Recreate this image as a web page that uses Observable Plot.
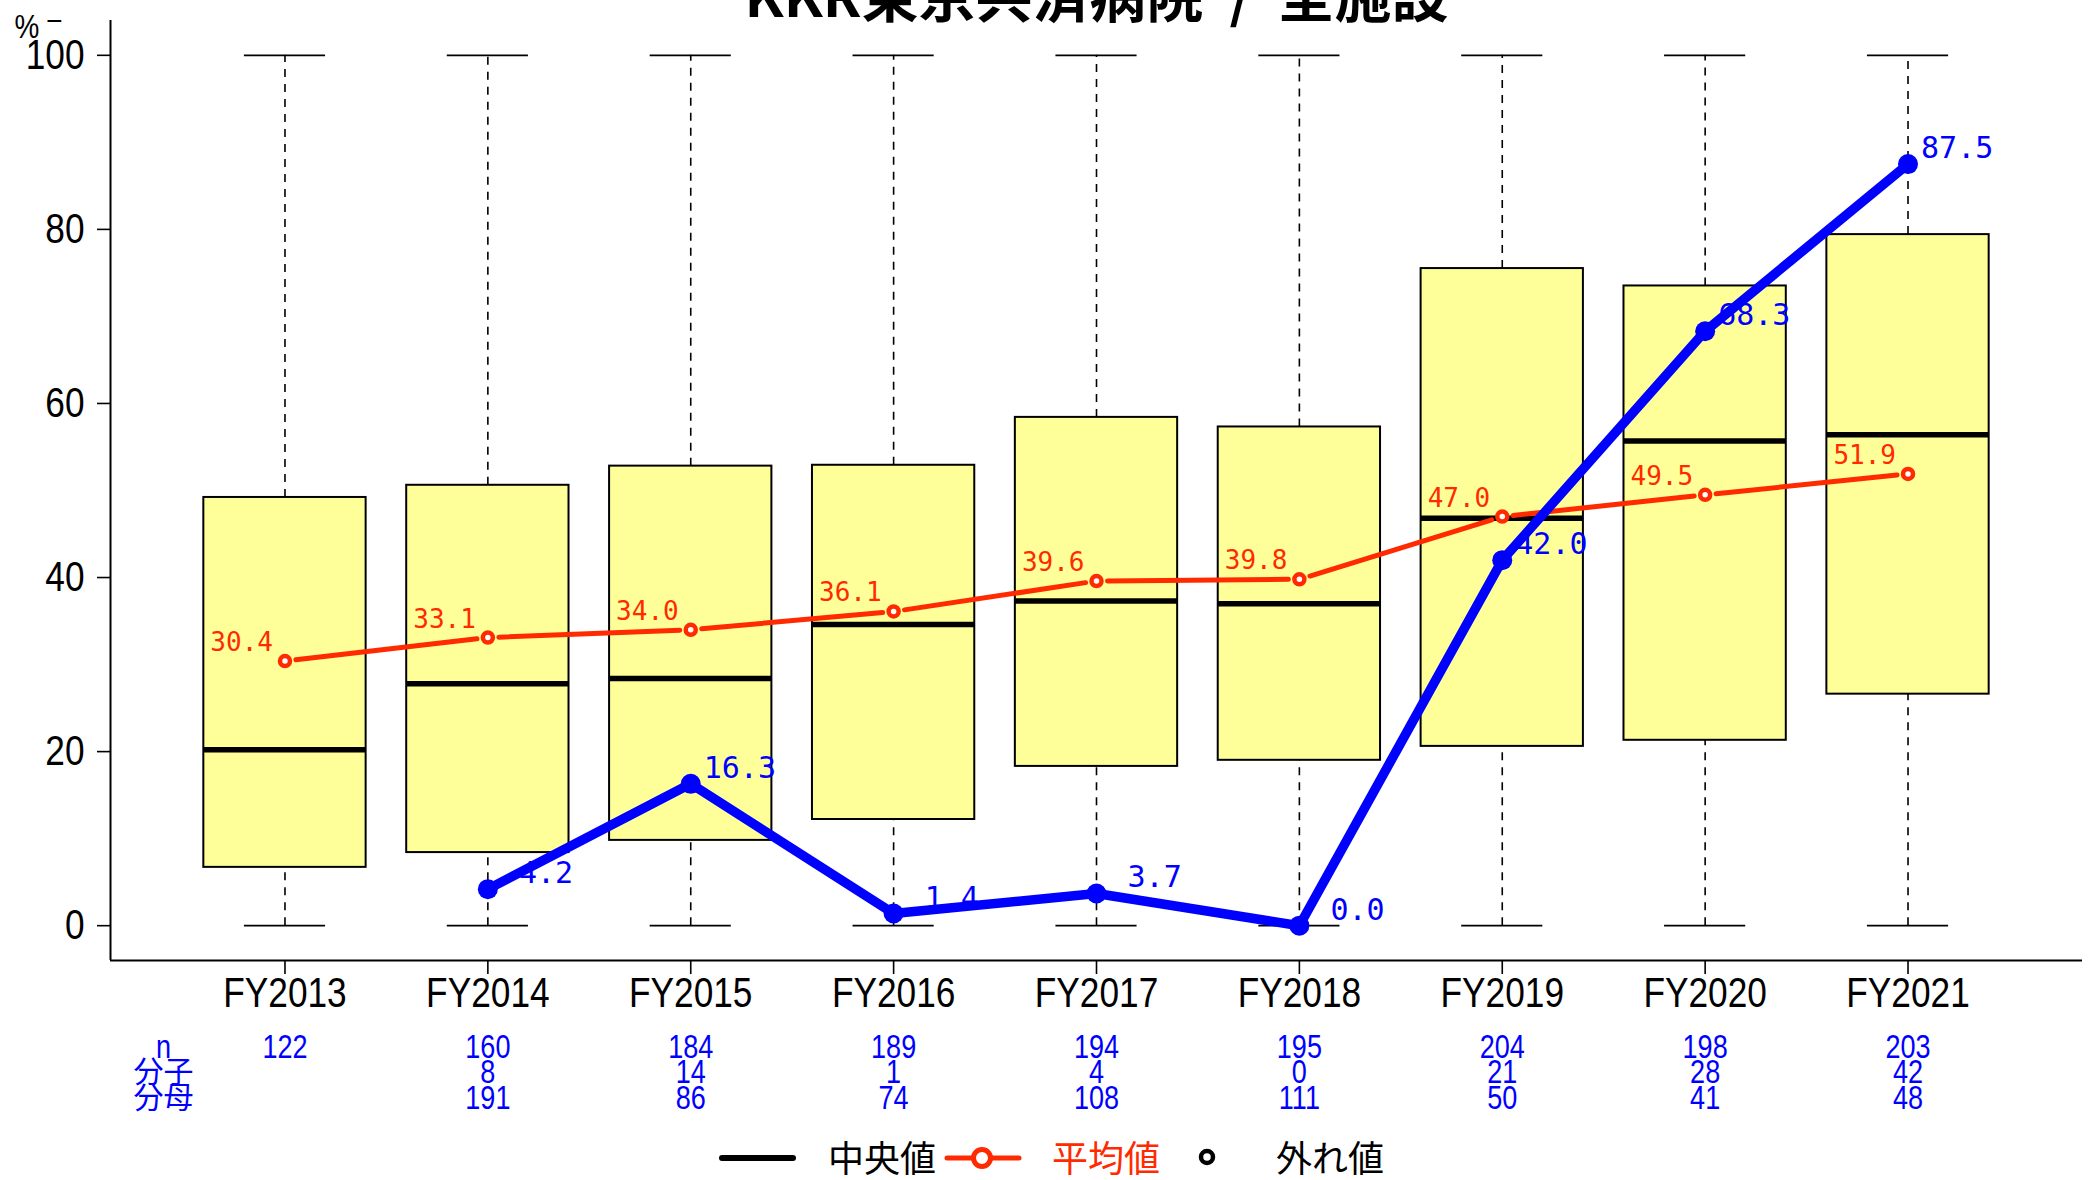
<!DOCTYPE html>
<html>
<head>
<meta charset="utf-8">
<script src="https://cdn.jsdelivr.net/npm/d3@7"></script>
<script src="https://cdn.jsdelivr.net/npm/@observablehq/plot@0.6"></script>
<style>
  html, body { margin: 0; padding: 0; background: #fff; overflow: hidden; }
  #chart svg text { white-space: pre; }
  #legend { position: relative; width: 2089px; height: 50px; }
  #legend svg { overflow: visible; }
</style>
</head>
<body>
<div id="chart"></div>
<div id="legend"></div>
<script>
// ---- data ----
const years = ["FY2013","FY2014","FY2015","FY2016","FY2017","FY2018","FY2019","FY2020","FY2021"];
const whiskerLow  = [0, 0, 0, 0, 0, 0, 0, 0, 0];
const q1          = [6.7, 8.4, 9.8, 12.2, 18.3, 19.0, 20.6, 21.3, 26.6];
const median      = [20.2, 27.8, 28.4, 34.6, 37.3, 37.0, 46.8, 55.7, 56.4];
const q3          = [49.2, 50.6, 52.8, 52.9, 58.4, 57.3, 75.5, 73.5, 79.4];
const whiskerHigh = [100, 100, 100, 100, 100, 100, 100, 100, 100];
const means       = [30.4, 33.1, 34.0, 36.1, 39.6, 39.8, 47.0, 49.5, 51.9];
const hospital    = [null, 4.2, 16.3, 1.4, 3.7, 0.0, 42.0, 68.3, 87.5];
const nCount      = [122, 160, 184, 189, 194, 195, 204, 198, 203];
const numerator   = [null, 8, 14, 1, 4, 0, 21, 28, 42];
const denominator = [null, 191, 86, 74, 108, 111, 50, 41, 48];
const yTicks      = [0, 20, 40, 60, 80, 100];
const rowLabels   = ["n", "分子", "分母"];
const titleText   = "KKR東京共済病院  /  全施設";
const yUnit       = "%";

const rows = years.map((fy, k) => ({
  i: k + 1, fy,
  lo: whiskerLow[k], q1: q1[k], med: median[k], q3: q3[k], hi: whiskerHigh[k],
  mean: means[k], hosp: hospital[k],
  n: nCount[k], num: numerator[k], den: denominator[k]
}));
const hospRows = rows.filter(d => d.hosp != null);
const meanPairs = d3.pairs(rows);

const RED = "#ff2a00", BLUE = "#0000ff", FILL = "#ffff99";
const sans = "'Liberation Sans', Arial, sans-serif";
const mono = "'DejaVu Sans Mono', 'Liberation Mono', monospace";
const cjk = "'Noto Sans CJK JP', 'Noto Sans', sans-serif";
const X0 = 0.14, X1 = 9.86, Y0 = -4, Y1 = 104;
const halfBox = 0.4, halfCap = 0.2;

const plot = Plot.plot({
  width: 2089, height: 1130,
  marginLeft: 110, marginRight: 7, marginTop: 20, marginBottom: 170,
  style: { fontFamily: sans, fontSize: "43px", background: "#fff", overflow: "hidden" },
  x: { type: "linear", domain: [X0, X1] },
  y: { domain: [Y0, Y1] },
  marks: [
    // whiskers
    Plot.ruleX(rows, { x: "i", y1: "q3", y2: "hi", stroke: "#000", strokeWidth: 1.6, strokeDasharray: "8,7" }),
    Plot.ruleX(rows, { x: "i", y1: "lo", y2: "q1", stroke: "#000", strokeWidth: 1.6, strokeDasharray: "8,7" }),
    Plot.ruleY(rows, { y: "hi", x1: d => d.i - halfCap, x2: d => d.i + halfCap, stroke: "#000", strokeWidth: 1.8 }),
    Plot.ruleY(rows, { y: "lo", x1: d => d.i - halfCap, x2: d => d.i + halfCap, stroke: "#000", strokeWidth: 1.8 }),
    // boxes
    Plot.rect(rows, { x1: d => d.i - halfBox, x2: d => d.i + halfBox, y1: "q1", y2: "q3", fill: FILL, stroke: "#000", strokeWidth: 2 }),
    Plot.ruleY(rows, { y: "med", x1: d => d.i - halfBox, x2: d => d.i + halfBox, stroke: "#000", strokeWidth: 5.5 }),
    // axes lines
    Plot.ruleX([X0], { y1: Y0, y2: Y1, stroke: "#000", strokeWidth: 2 }),
    Plot.ruleY([Y0], { x1: X0, x2: X1, stroke: "#000", strokeWidth: 2 }),
    Plot.axisY({ ticks: yTicks, tickSize: 13, tickPadding: 13, label: null, fontSize: 43, stroke: "#000", strokeWidth: 1.6, fill: "#000" }),
    Plot.axisX({ ticks: rows.map(d => d.i), tickFormat: i => years[i - 1], tickSize: 14, tickPadding: 2, label: null, fontSize: 43, stroke: "#000", strokeWidth: 1.6, fill: "#000" }),
    // mean line (type "b")
    Plot.arrow(meanPairs, { x1: p => p[0].i, y1: p => p[0].mean, x2: p => p[1].i, y2: p => p[1].mean, headLength: 0, inset: 11, stroke: RED, strokeWidth: 5, strokeLinecap: "round" }),
    Plot.dot(rows, { x: "i", y: "mean", r: 5, stroke: RED, strokeWidth: 4.5, fill: "#fff" }),
    Plot.text(rows, { x: "i", y: "mean", text: d => d3.format(".1f")(d.mean), textAnchor: "end", lineAnchor: "bottom", dx: -12, dy: -10, fill: RED, fontSize: 26, fontFamily: mono }),
    // hospital labels, line, dots
    Plot.text(hospRows, { x: "i", y: "hosp", text: d => d3.format(".1f")(d.hosp).padStart(4, " "), textAnchor: "start", lineAnchor: "bottom", dx: 13, dy: -6, fill: BLUE, fontSize: 30, fontFamily: mono }),
    Plot.line(hospRows, { x: "i", y: "hosp", stroke: BLUE, strokeWidth: 9.5, strokeLinecap: "round", strokeLinejoin: "round" }),
    Plot.dot(hospRows, { x: "i", y: "hosp", r: 10, fill: BLUE }),
    // table below axis
    Plot.text(rows, { x: "i", frameAnchor: "bottom", text: d => String(d.n), lineAnchor: "bottom", dy: 97, fill: BLUE, fontSize: 33 }),
    Plot.text(rows, { x: "i", frameAnchor: "bottom", text: d => d.num == null ? "" : String(d.num), lineAnchor: "bottom", dy: 122, fill: BLUE, fontSize: 33 }),
    Plot.text(rows, { x: "i", frameAnchor: "bottom", text: d => d.den == null ? "" : String(d.den), lineAnchor: "bottom", dy: 148, fill: BLUE, fontSize: 33 }),
    Plot.text([rowLabels[0]], { frameAnchor: "bottom-left", dx: 53, dy: 97, lineAnchor: "bottom", textAnchor: "middle", fill: BLUE, fontSize: 33 }),
    Plot.text([rowLabels[1]], { frameAnchor: "bottom-left", dx: 53, dy: 121, lineAnchor: "bottom", textAnchor: "middle", fill: BLUE, fontSize: 30, fontFamily: cjk }),
    Plot.text([rowLabels[2]], { frameAnchor: "bottom-left", dx: 53, dy: 147, lineAnchor: "bottom", textAnchor: "middle", fill: BLUE, fontSize: 30, fontFamily: cjk }),
    // y unit label
    Plot.text([yUnit], { frameAnchor: "top-left", dx: -96, dy: 17, lineAnchor: "bottom", textAnchor: "start", fill: "#000", fontSize: 34 }),
    Plot.text(["–"], { frameAnchor: "top-left", dx: -63, dy: -1, lineAnchor: "middle", textAnchor: "start", fill: "#000", fontSize: 30 }),
    // title (cut off at top as in reference)
    Plot.text([titleText], { frameAnchor: "top", dy: -4, lineAnchor: "bottom", fill: "#000", fontSize: 57, fontWeight: "bold", fontFamily: cjk })
  ]
});
document.getElementById("chart").appendChild(plot);

// condense the Liberation Sans texts horizontally (the reference uses a narrow face)
const SX = 0.82;
plot.querySelectorAll("text").forEach(t => {
  const cs = getComputedStyle(t);
  if (!cs.fontFamily.includes("Liberation Sans")) return;
  const bb = t.getBBox();
  if (!bb.width) return;
  const anchor = cs.textAnchor;
  const ax = anchor === "end" ? bb.x + bb.width : anchor === "middle" ? bb.x + bb.width / 2 : bb.x;
  const prev = t.getAttribute("transform") || "";
  t.setAttribute("transform", `${prev} translate(${ax},0) scale(${SX},1) translate(${-ax},0)`.trim());
});

// ---- legend below the plot ----
const lg = d3.select("#legend").append("svg").attr("width", 2089).attr("height", 50);
const cy = 28;
lg.append("line").attr("x1", 722).attr("x2", 793).attr("y1", cy).attr("y2", cy).attr("stroke", "#000").attr("stroke-width", 6).attr("stroke-linecap", "round");
lg.append("text").attr("x", 828).attr("y", cy).attr("dy", "0.38em").attr("font-family", cjk).attr("font-size", 36).attr("fill", "#000").text("中央値");
lg.append("line").attr("x1", 947).attr("x2", 1019).attr("y1", cy).attr("y2", cy).attr("stroke", RED).attr("stroke-width", 5).attr("stroke-linecap", "round");
lg.append("circle").attr("cx", 982).attr("cy", cy).attr("r", 8.5).attr("fill", "#fff").attr("stroke", RED).attr("stroke-width", 5);
lg.append("text").attr("x", 1052).attr("y", cy).attr("dy", "0.38em").attr("font-family", cjk).attr("font-size", 36).attr("fill", RED).text("平均値");
lg.append("circle").attr("cx", 1207).attr("cy", cy - 1).attr("r", 6).attr("fill", "#fff").attr("stroke", "#000").attr("stroke-width", 4.5);
lg.append("text").attr("x", 1276).attr("y", cy).attr("dy", "0.38em").attr("font-family", cjk).attr("font-size", 36).attr("fill", "#000").text("外れ値");
</script>
</body>
</html>
